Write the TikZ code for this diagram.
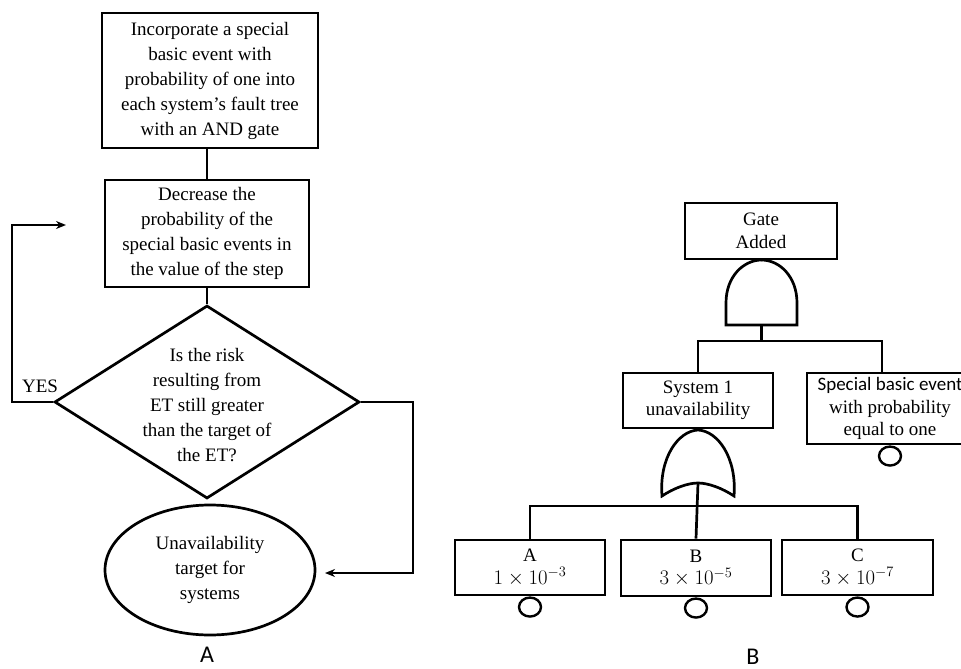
\documentclass[tikz,border=0pt]{standalone}
\usepackage{fontspec}
\setmainfont{Liberation Serif}
\newfontfamily\capfont{Carlito}
\usetikzlibrary{shapes.geometric,arrows.meta}

\begin{document}
\begin{tikzpicture}[x=1pt,y=-1pt,line width=2.7pt,
  txt/.style={font=\fontsize{19}{25}\selectfont,align=center},
  txtb/.style={font=\fontsize{19}{22.5}\selectfont,align=center},
  box/.style={draw,rectangle,inner sep=0pt},
  arr/.style={-{Stealth[length=10pt,width=8pt]}},
  evt/.style={draw,ellipse,minimum width=22pt,minimum height=19pt,inner sep=0pt,line width=2.4pt},
  caption/.style={font=\capfont\fontsize{24}{24}\selectfont,inner sep=0pt},
  ]
\useasboundingbox (0,0) rectangle (961,669);

% ---------- A: flow chart ----------
\node[box,txt,minimum width=216pt,minimum height=135pt] (init) at (210,80.5)
  {Incorporate a special\\basic event with\\probability of one into\\each system’s fault tree\\with an AND gate};
\node[box,txt,minimum width=204pt,minimum height=107pt] (dec) at (207,233.5)
  {Decrease the\\probability of the\\special basic events in\\the value of the step};
\node[draw,diamond,minimum width=305pt,minimum height=193pt,inner sep=0pt] (q) at (207,402) {};
\node[txt] (qtext) at (207,405)
  {Is the risk\\resulting from\\ET still greater\\than the target of\\the ET?};
\node[draw,ellipse,txt,minimum width=210pt,minimum height=130pt] (target) at (210,570)
  {Unavailability\\target for\\systems};
\node[txt] (yes) at (40,386) {YES};

\coordinate (yesend) at (66,225);
\coordinate (yesx) at (12,0);
\coordinate (noend) at (325,573);
\coordinate (nox) at (413,0);

\draw (dec.north) -- (dec.north |- init.south);
\draw (dec.south) -- (q.north);
\draw[arr] (q.west) -| (yesx |- yesend) -- (yesend);
\draw[arr] (q.east) -| (nox |- noend) -- (noend);

\node[caption] (capA) at (207,655) {A};

% ---------- B: fault tree ----------
\node[box,txtb,minimum width=152pt,minimum height=56pt] (gate) at (761,231) {Gate\\Added};

% AND gate
\coordinate (andtop) at (761.5,260);
\coordinate (andbot) at (761.5,325);
\draw (726,325) -- (726,303) .. controls (726,276) and (744,260) .. (andtop)
      .. controls (779,260) and (797,276) .. (797,303) -- (797,325) -- cycle;
\draw (gate.south) -- (andtop);

\node[box,txtb,minimum width=150pt,minimum height=55pt] (sys) at (698,400.5) {System 1\\unavailability};
\node[box,txtb,minimum width=166pt,minimum height=71pt] (spec) at (890,408.5)
  {{\capfont Special basic event}\\with probability\\equal to one};
\node[evt,anchor=north] (specev) at (spec.south) {};

\coordinate (bar1) at (761.5,341);
\draw (andbot) -- (bar1);
\draw (sys.north) |- (bar1) -| ([xshift=-8pt]spec.north);

% OR gate
\coordinate (ortop) at (698,430);
\coordinate (orbot) at (698,483);
\draw (662,496) .. controls (659,458) and (678,431) .. (ortop)
      .. controls (718,431) and (737,458) .. (734,496)
      .. controls (722,488) and (708,483) .. (orbot)
      .. controls (688,483) and (674,488) .. (662,496) -- cycle;
\draw (sys.south) -- (ortop);

\node[box,txtb,minimum width=150pt,minimum height=55pt] (abox) at (530,567.5)
  {A\\\fontsize{22}{22}\selectfont$1\times10^{-3}$};
\node[box,txtb,minimum width=150pt,minimum height=56pt] (bbox) at (696,568)
  {B\\\fontsize{20}{22}\selectfont$3\times10^{-5}$};
\node[box,txtb,minimum width=151pt,minimum height=55pt] (cbox) at (857.5,567.5)
  {C\\\fontsize{20}{22}\selectfont$3\times10^{-7}$};

\coordinate (bar2) at (696,506);
\draw (orbot) -- (bbox.north);
\draw (abox.north) |- (bar2) -| (cbox.north);

\node[evt,anchor=north] (aev) at (abox.south) {};
\node[evt,anchor=north] (bev) at (bbox.south) {};
\node[evt,anchor=north] (cev) at (cbox.south) {};

\node[caption] (capB) at (753,657) {B};
\end{tikzpicture}
\end{document}
